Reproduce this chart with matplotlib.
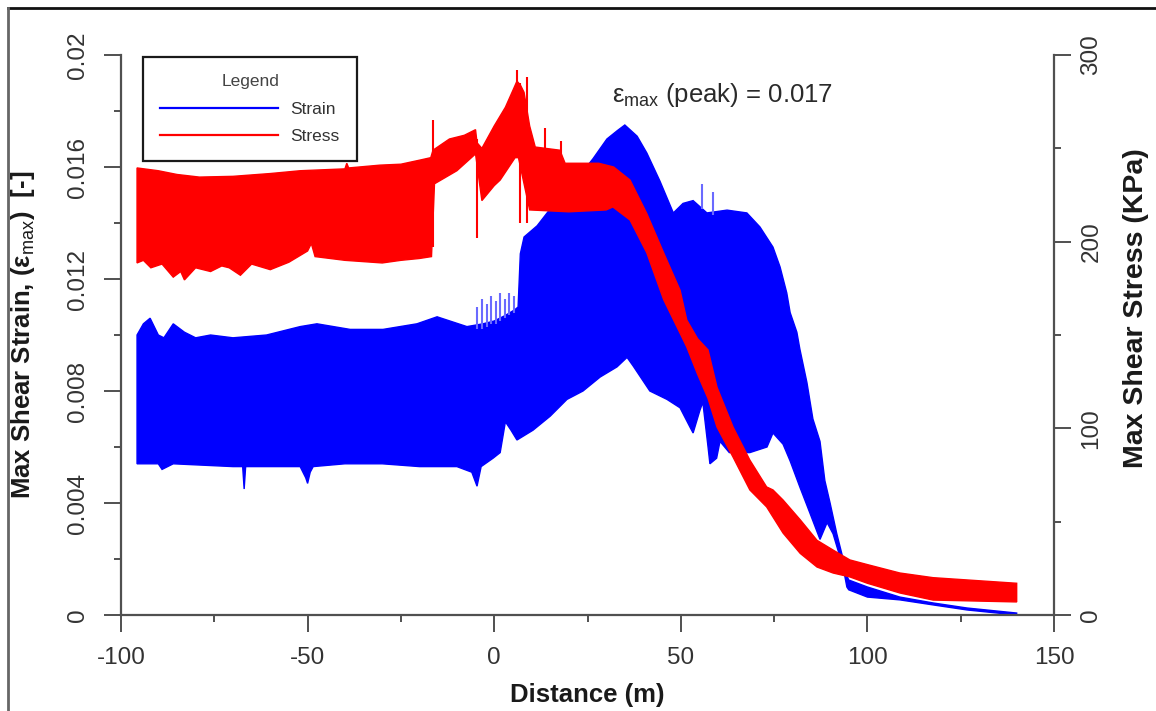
import matplotlib
matplotlib.use("Agg")
import matplotlib.pyplot as plt
from matplotlib.lines import Line2D
from matplotlib.ticker import FixedLocator, FixedFormatter, MultipleLocator

plt.rcParams['font.family'] = ['Liberation Sans', 'DejaVu Sans']
plt.rcParams['mathtext.fontset'] = 'custom'
plt.rcParams['mathtext.rm'] = 'Liberation Sans'
plt.rcParams['mathtext.it'] = 'Liberation Sans'
plt.rcParams['mathtext.bf'] = 'Liberation Sans:bold'
plt.rcParams['axes.unicode_minus'] = False

# ---------------- data ----------------
# Max shear strain: upper and lower envelope of the oscillating trace
strain_up_x = [-95.7, -94, -92.2, -90, -88.5, -86, -83, -80, -76, -70, -61, -52, -47.5,
               -38.6, -29.8, -20.7, -15.3, -7.3, -3, 0, 3, 5.5, 6.4, 7, 8, 11.5, 15, 20,
               26.5, 30.2, 33, 35, 38.3, 40.9, 44.4, 48, 50.6, 53.3, 57, 62.4, 67.7, 71.2,
               74.7, 76.6, 78.4, 79.3, 81.1, 81.9, 83.8, 85.4, 87.3, 88.6, 90, 91.8, 93.5,
               94.5, 95, 100, 108.7, 117.6, 126.7, 140]
strain_up = [0.0100, 0.0104, 0.0106, 0.0100, 0.0099, 0.0104, 0.0101, 0.0099, 0.0100, 0.0099,
             0.0100, 0.0103, 0.0104, 0.0102, 0.0102, 0.0104, 0.01065, 0.0103, 0.0104, 0.0105,
             0.0107, 0.0109, 0.0110, 0.0129, 0.0135, 0.0139, 0.0145, 0.0152, 0.0163, 0.0170,
             0.0173, 0.0175, 0.0171, 0.0165, 0.0155, 0.01436, 0.0147, 0.0148, 0.01436, 0.01446,
             0.01436, 0.01386, 0.01314, 0.01243, 0.0115, 0.0108, 0.0101, 0.0095, 0.0083,
             0.0070, 0.0062, 0.0048, 0.0040, 0.0029, 0.0020, 0.0014, 0.00125, 0.0010,
             0.00064, 0.00043, 0.00025, 0.00007]

strain_lo_x = [-95.7, -90, -89, -86, -70, -67.4, -67, -66.6, -60, -52, -50.5, -50, -49.3,
               -48.5, -40, -30, -20, -10, -6, -4.6, -3.5, -0.3, 1.6, 3, 4.5, 6.1, 10.4, 15,
               19.5, 23.8, 28.4, 32.9, 35.6, 37.2, 41.7, 46.3, 49.8, 52.5, 53.3, 55.1, 55.9,
               57.3, 57.8, 59.6, 60.5, 63, 68.5, 73.1, 74.7, 77.4, 79.3, 81.9, 84.6, 87.3,
               89.2, 90.8, 93.5, 94.5, 95, 100, 108.7, 117.6, 126.7, 140]
strain_lo = [0.0054, 0.0054, 0.0052, 0.0054, 0.0053, 0.0053, 0.0045, 0.0053, 0.0053, 0.0053,
             0.0049, 0.0047, 0.0051, 0.0053, 0.0054, 0.0054, 0.0053, 0.0053, 0.0051, 0.0046,
             0.0053, 0.0056, 0.0058, 0.0069, 0.0066, 0.00625, 0.0066, 0.0071, 0.0077, 0.0080,
             0.0085, 0.00886, 0.0092, 0.0089, 0.0080, 0.0077, 0.0074, 0.0067, 0.0065, 0.0073,
             0.0076, 0.0060, 0.0054, 0.0056, 0.0062, 0.0058, 0.0058, 0.0060, 0.0065, 0.0061,
             0.0055, 0.00457, 0.00364, 0.0027, 0.0033, 0.0029, 0.0017, 0.0010, 0.0009,
             0.00064, 0.00054, 0.00036, 0.00018, 0.0]

# isolated strain oscillation peaks poking above the dense band
strain_spike_x = [-4.5, -3.3, -2.0, -0.8, 0.4, 1.6, 2.8, 4.0, 5.2, 55.7, 58.7]
strain_spike_lo = [0.0102, 0.0102, 0.0103, 0.0104, 0.0104, 0.0105, 0.0106, 0.0107, 0.0108,
                   0.0145, 0.0143]
strain_spike_hi = [0.0110, 0.0113, 0.0111, 0.0114, 0.0112, 0.0115, 0.0113, 0.0115, 0.0114,
                   0.0154, 0.0151]

# Max shear stress (KPa): upper and lower envelope
stress_up_x = [-95.7, -90, -85, -79, -70, -60, -52, -40, -39.5, -39, -30.6, -25, -19.9, -17,
               -16.4, -12, -8, -5, -4.6, -3.3, 0, 3, 5, 6.1, 7, 8, 9.5, 11, 17.6, 19, 28, 32,
               36.4, 40.9, 45.4, 49.8, 51.6, 54.5, 57.3, 59.7, 64, 68.5, 73, 74.7, 77.4, 82,
               86.5, 90.8, 95.3, 100, 108.7, 117.6, 140]
stress_up = [239.5, 238, 236, 234.6, 235, 236.5, 238, 239, 242, 239.5, 241, 241.5, 243.7, 245,
             249, 255, 257, 260, 253, 250, 262, 272, 281, 286, 284, 280, 262, 250.7, 249, 242,
             242, 240, 233, 215, 194, 174, 158, 148, 142, 122, 100.7, 83, 68.6, 67, 61.6, 51,
             40, 34.8, 29.5, 27, 22.5, 20, 17]

stress_lo_x = [-95.7, -94, -92, -89, -86, -84, -83, -80, -76, -73, -71, -68, -65, -60, -55,
               -50, -49, -48, -40, -30, -25, -20, -16.8, -16, -10, -5, -3.3, 0, 1.6, 5.6, 6.5,
               9.5, 20, 30, 31.8, 36.4, 40.9, 45.4, 49.8, 51.6, 54.5, 57.3, 59.7, 64, 68.5, 73,
               77.4, 82, 86.5, 90.8, 95.3, 100, 108.7, 117.6, 140]
stress_lo = [188.6, 190, 186, 188, 181, 184, 179.5, 186, 184, 187, 186, 182, 188, 185, 189,
             195, 199, 192, 190, 188.6, 190, 191, 192, 231, 238, 247, 222, 230, 233, 245, 245,
             217, 216, 217, 218.6, 211.6, 194, 169, 151, 143.6, 129, 116, 100.7, 84.6, 67,
             57.9, 43.9, 33, 25.7, 22.5, 20.4, 17, 11.8, 8, 7]

# isolated stress oscillation spikes
stress_spike_x = [-16.4, -4.6, 6.1, 6.9, 8.8, 13.6, 17.9]
stress_spike_lo = [197, 202, 250, 210, 210, 245, 245]
stress_spike_hi = [265, 255, 292, 285, 288, 261, 254]

x_ticks = [-100, -50, 0, 50, 100, 150]
strain_ticks = [0, 0.004, 0.008, 0.012, 0.016, 0.02]
strain_tick_labels = ['0', '0.004', '0.008', '0.012', '0.016', '0.02']
stress_ticks = [0, 100, 200, 300]

# ---------------- figure ----------------
W, H = 1156, 711
fig = plt.figure(figsize=(W / 100, H / 100), dpi=100)
ax = fig.add_axes([121 / W, 1 - 615 / H, (1054 - 121) / W, (615 - 55) / H])
ax2 = ax.twinx()

blue = '#0000ff'
red = '#ff0000'


def band(a, xu, yu, xl, yl, color):
    px = list(xu) + list(xl)[::-1]
    py = list(yu) + list(yl)[::-1]
    a.fill(px, py, color=color, lw=1.0, ec=color, zorder=2)


band(ax, strain_up_x, strain_up, strain_lo_x, strain_lo, blue)
ax.vlines(strain_spike_x, strain_spike_lo, strain_spike_hi, color='#6a6aff', lw=1.5, zorder=3)

band(ax2, stress_up_x, stress_up, stress_lo_x, stress_lo, red)
ax2.vlines(stress_spike_x, stress_spike_lo, stress_spike_hi, color=red, lw=1.5, zorder=3)

ax.set_zorder(0)
ax2.set_zorder(1)
ax2.patch.set_visible(False)

ax.set_xlim(-100, 150)
ax.set_ylim(0, 0.02)
ax2.set_ylim(0, 300)

spine_c = '#505050'
for a in (ax, ax2):
    a.spines['top'].set_visible(False)
    for s in ('left', 'right', 'bottom'):
        a.spines[s].set_color(spine_c)
        a.spines[s].set_linewidth(1.6)
ax.spines['right'].set_visible(False)
ax2.spines['left'].set_visible(False)
ax2.spines['bottom'].set_visible(False)

ax.xaxis.set_major_locator(FixedLocator(x_ticks))
ax.xaxis.set_minor_locator(MultipleLocator(25))
ax.yaxis.set_major_locator(FixedLocator(strain_ticks))
ax.yaxis.set_major_formatter(FixedFormatter(strain_tick_labels))
ax.yaxis.set_minor_locator(MultipleLocator(0.002))
ax2.yaxis.set_major_locator(FixedLocator(stress_ticks))
ax2.yaxis.set_minor_locator(MultipleLocator(50))

lab_c = '#333333'
for a in (ax, ax2):
    a.tick_params(which='major', direction='out', length=12, width=1.4, color=spine_c,
                  labelsize=17.5, labelcolor=lab_c)
    a.tick_params(which='minor', direction='out', length=5, width=1.4, color=spine_c)
ax.tick_params(axis='x', pad=11)
ax.tick_params(axis='y', pad=11, labelrotation=90)
ax2.tick_params(axis='y', pad=7, labelrotation=90)
for t in ax.get_yticklabels() + ax2.get_yticklabels():
    t.set_va('center')

ax.set_xlabel('Distance (m)', fontsize=18.5, fontweight='bold', color='#1a1a1a')
ax.xaxis.set_label_coords(0.5, -(683 - 615) / 560)
ax.set_ylabel(r'Max Shear Strain, ($\mathbf{\varepsilon}_{\mathrm{max}}$)  [-]', fontsize=18.5,
              fontweight='bold', color='#1a1a1a')
ax.yaxis.set_label_coords(-(121 - 37) / 933, 0.5)
ax2.set_ylabel('Max Shear Stress (KPa)', fontsize=20.5, fontweight='bold', color='#1a1a1a',
               rotation=90)
ax2.yaxis.set_label_coords((1123 - 121) / 933, (615 - 308) / 560)

ax.text(31.6, 0.01857, r'$\varepsilon_{\mathrm{max}}$ (peak) = 0.017', fontsize=18.5,
        color='#2a2a2a', ha='left', va='center', zorder=5)

handles = [Line2D([], [], color=blue, lw=1.6), Line2D([], [], color=red, lw=1.6)]
leg = ax2.legend(handles, ['Strain', 'Stress'], title='Legend', loc='upper left',
                 bbox_to_anchor=(22 / 933, (615 - 57) / 560), fontsize=12.5,
                 title_fontsize=12.5, handlelength=6.8, handletextpad=0.7,
                 borderpad=1.0, labelspacing=0.7, fancybox=False, framealpha=1,
                 edgecolor='#1a1a1a', borderaxespad=0)
leg.get_frame().set_linewidth(1.6)
leg.get_title().set_color('#444444')
for t in leg.get_texts():
    t.set_color('#333333')

# outer frame lines (top and left)
fig.add_artist(Line2D([7.5 / W, 1], [1 - 7.5 / H, 1 - 7.5 / H], color='#111111', lw=2.0,
                      transform=fig.transFigure))
fig.add_artist(Line2D([7.5 / W, 7.5 / W], [0, 1 - 7.5 / H], color='#666666', lw=2.0,
                      transform=fig.transFigure))

fig.savefig('out.png', dpi=100, facecolor='white')
